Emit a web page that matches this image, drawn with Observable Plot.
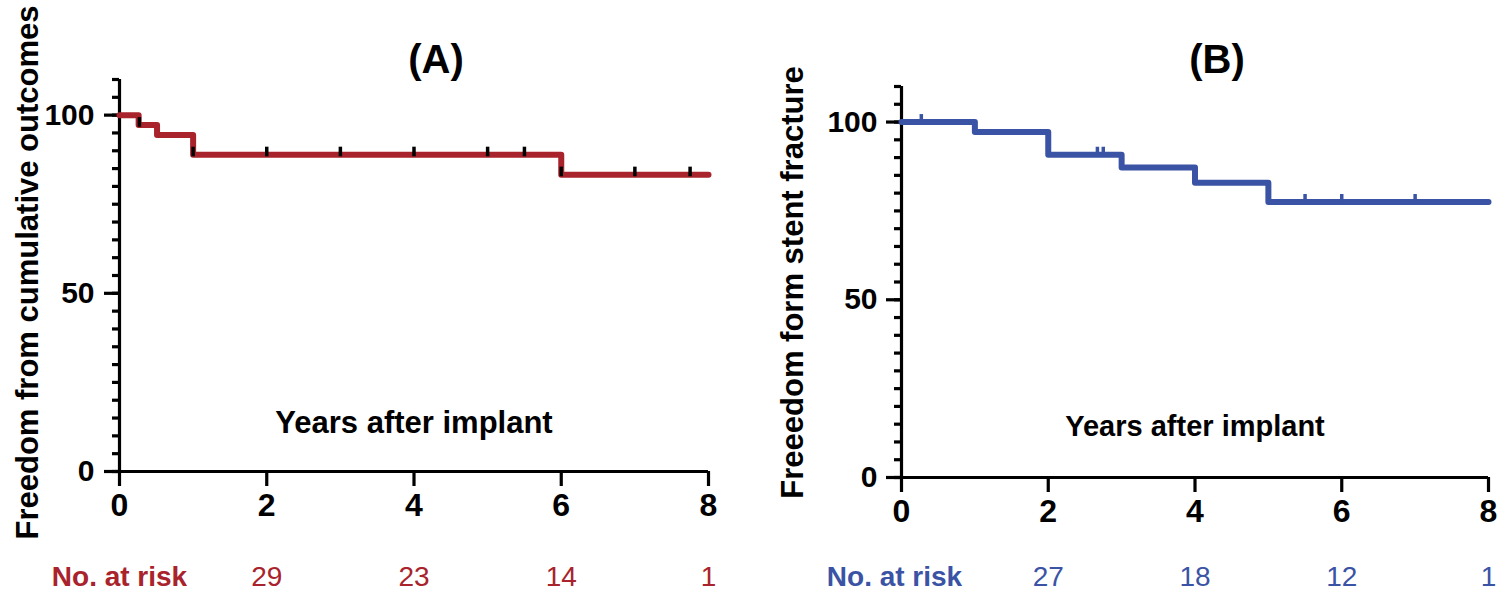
<!DOCTYPE html>
<html><head><meta charset="utf-8">
<script src="https://cdn.jsdelivr.net/npm/d3@7"></script>
<script src="https://cdn.jsdelivr.net/npm/@observablehq/plot@0.6"></script>
<style>
body{margin:0;background:#fff;}
#wrap{position:relative;width:1500px;height:591px;overflow:hidden;background:#fff;}
#a,#b{position:absolute;top:0;}
#a{left:0}
#b{left:760px}
</style></head><body><div id="wrap"><div id="a"></div><div id="b"></div></div>
<script>
// ---- data ----
const timesA = [0, 0.26, 0.51, 1, 6, 8];
const survA  = [100, 97.2, 94.4, 88.9, 83.3, 83.3];
const censorTimesA = [0.27, 1.0, 2, 3, 4, 5, 5.5, 6.0, 7, 7.75];
const censorSurvA  = [97.2, 88.9, 88.9, 88.9, 88.9, 88.9, 88.9, 83.3, 83.3, 83.3];

const timesB = [0, 1, 2, 3, 4, 5, 8];
const survB  = [100, 97.2, 90.8, 87.2, 82.9, 77.5, 77.5];
const censorTimesB = [0.27, 2.67, 2.75, 5.5, 6.0, 7.0];
const censorSurvB  = [100, 90.8, 90.8, 77.5, 77.5, 77.5];

const xTicks = [0, 2, 4, 6, 8];
const yMajor = [0, 50, 100];
const yMinor = d3.range(0, 111, 5);
const riskYears = [2, 4, 6, 8];
const riskA = [29, 23, 14, 1];
const riskB = [27, 18, 12, 1];
const riskLabel = "No. at risk";
const titleA = "(A)", titleB = "(B)";
const yLabelA = "Freedom from cumulative outcomes";
const yLabelB = "Freeedom form stent fracture";
const xLabel = "Years after implant";

const FONT = "'Liberation Sans', Arial, Helvetica, sans-serif";
const tickSym = {draw(ctx, size){ const h = Math.sqrt(size / Math.PI); ctx.moveTo(0, -h); ctx.lineTo(0, h * 0.2); }};

function panel(cfg) {
  const curve = cfg.times.map((t, i) => ({t, s: cfg.surv[i]}));
  const cens = cfg.cTimes.map((t, i) => ({t, s: cfg.cSurv[i]}));
  const risk = cfg.risk.map((n, i) => ({t: riskYears[i], n}));
  return Plot.plot({
    width: 740, height: 591,
    marginLeft: cfg.ml, marginRight: cfg.mr, marginTop: cfg.mt, marginBottom: cfg.mb,
    style: {fontFamily: FONT, background: "transparent", color: "#000", overflow: "visible"},
    x: {domain: [0, 8], axis: null},
    y: {domain: [0, 110], axis: null},
    marks: [
      Plot.axisY(yMinor, {tickSize: 7, tickFormat: () => "", strokeWidth: 3.2, label: null}),
      Plot.axisY(yMajor, {tickSize: 15, tickPadding: cfg.ypad, fontSize: 30, fontWeight: "bold", strokeWidth: 3.2, label: null}),
      Plot.axisX(xTicks, {tickSize: 15, tickPadding: 7, fontSize: 32, fontWeight: "bold", strokeWidth: 3.2, label: null}),
      Plot.ruleX([0], {strokeWidth: 3.2}),
      Plot.ruleY([0], {strokeWidth: 3.2}),
      Plot.line(curve, {x: "t", y: "s", curve: "step-after", stroke: cfg.color, strokeWidth: 6, strokeLinecap: "round"}),
      Plot.dot(cens, {x: "t", y: "s", symbol: tickSym, r: 8, stroke: cfg.tickColor, strokeWidth: 3.5, fill: "none"}),
      Plot.text([cfg.title], {text: d => d, frameAnchor: "top", dx: cfg.tdx, dy: cfg.tdy, fontSize: 40, fontWeight: "bold", lineAnchor: "middle"}),
      Plot.text([cfg.yLabel], {text: d => d, frameAnchor: "top-left", dx: cfg.ydx, dy: cfg.ydy, rotate: -90, textAnchor: "middle", lineAnchor: "middle", fontSize: 31, fontWeight: "bold"}),
      Plot.text([xLabel], {text: d => d, frameAnchor: "bottom", dy: cfg.xldy, fontSize: cfg.xlfs, fontWeight: "bold", lineAnchor: "middle"}),
      Plot.text([riskLabel], {text: d => d, x: () => 0, frameAnchor: "bottom", dx: cfg.rdx, dy: cfg.rdy, fill: cfg.color, fontSize: 28, fontWeight: "bold", lineAnchor: "middle"}),
      Plot.text(risk, {x: "t", text: "n", frameAnchor: "bottom", dy: cfg.rdy, fill: cfg.color, fontSize: 28, lineAnchor: "middle"})
    ]
  });
}

document.getElementById("a").append(panel({
  times: timesA, surv: survA, cTimes: censorTimesA, cSurv: censorSurvA, risk: riskA,
  color: "#a8232b", tickColor: "#000", title: titleA, yLabel: yLabelA,
  ml: 119, mr: 32, mt: 79, mb: 120, ypad: 10,
  tdx: 22, tdy: -19, ydx: -91, ydy: 193, xldy: -48, xlfs: 31, rdx: 0, rdy: 106
}));
document.getElementById("b").append(panel({
  times: timesB, surv: survB, cTimes: censorTimesB, cSurv: censorSurvB, risk: riskB,
  color: "#3b53a5", tickColor: "#3b53a5", title: titleB, yLabel: yLabelB,
  ml: 141, mr: 12, mt: 86, mb: 114, ypad: 9,
  tdx: 22, tdy: -26, ydx: -108, ydy: 196, xldy: -51, xlfs: 29, rdx: -7, rdy: 100
}));
</script></body></html>
